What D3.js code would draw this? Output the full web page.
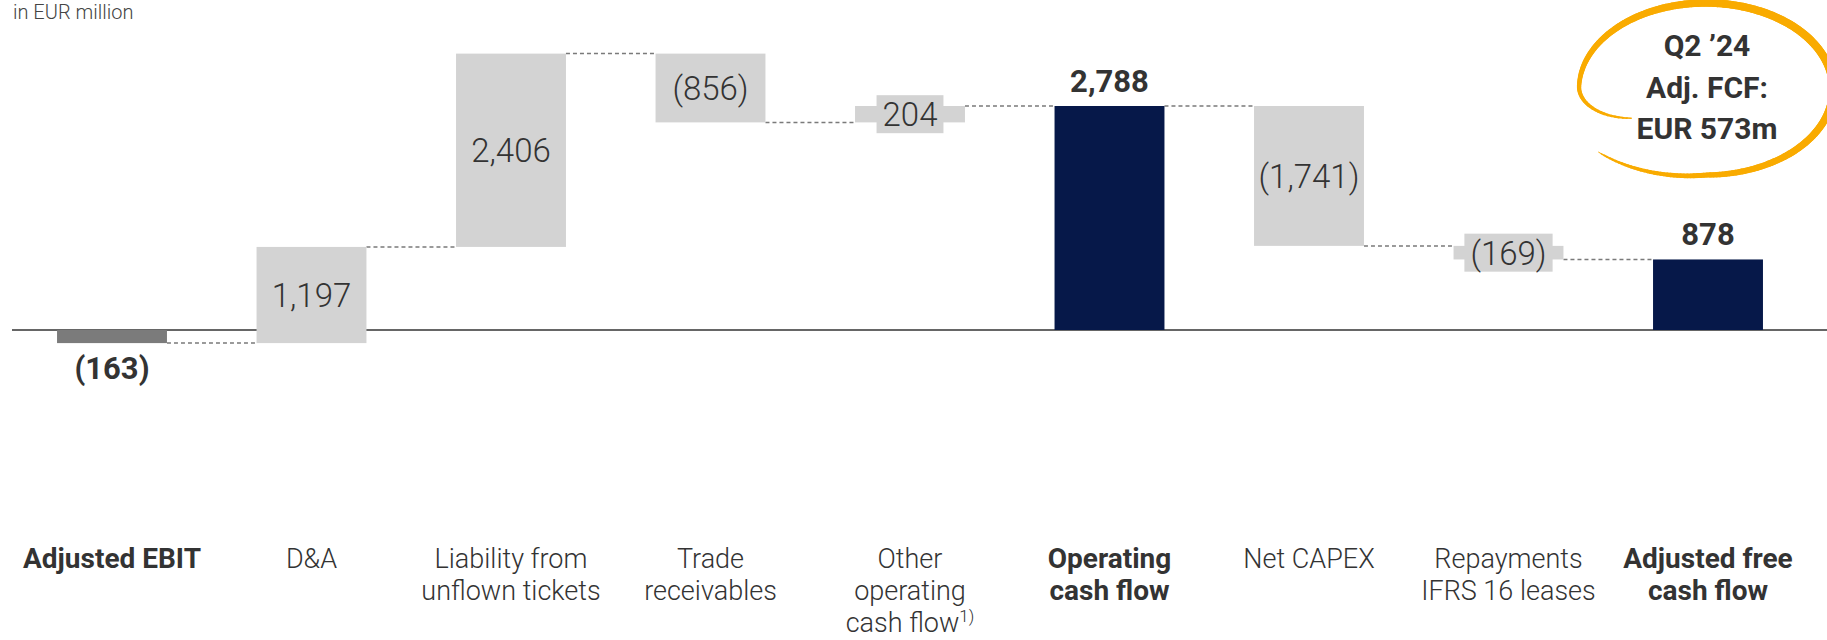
<!DOCTYPE html>
<html>
<head>
<meta charset="utf-8">
<script src="https://cdn.jsdelivr.net/npm/d3@7"></script>
<style>
    body { margin: 0; background: #fff; }
    svg { display: block; font-family: Roboto, "Noto Sans", sans-serif; }
</style>
</head>
<body>
<svg id="chart"></svg>
<script>
const categories = [
    "Adjusted EBIT", "D&A", "Liability from unflown tickets", "Trade receivables",
    "Other operating cash flow", "Operating cash flow", "Net CAPEX",
    "Repayments IFRS 16 leases", "Adjusted free cash flow"
];
const labelLines = [
    ["Adjusted EBIT"], ["D&A"], ["Liability from", "unflown tickets"], ["Trade", "receivables"],
    ["Other", "operating", "cash flow"], ["Operating", "cash flow"], ["Net CAPEX"],
    ["Repayments", "IFRS 16 leases"], ["Adjusted free", "cash flow"]
];
const footnotes = ["", "", "", "", "1)", "", "", "", ""];
const values = [-163, 1197, 2406, -856, 204, 2788, -1741, -169, 878];
const barTypes = ["total", "delta", "delta", "delta", "delta", "total", "delta", "delta", "total"];
const valueLabels = ["(163)", "1,197", "2,406", "(856)", "204", "2,788", "(1,741)", "(169)", "878"];
const unitLabel = "in EUR million";
const calloutLines = ["Q2 \u201924", "Adj. FCF:", "EUR 573m"];

const width = 1827;
const height = 640;

// running totals for the waterfall
let running = 0;
const bars = categories.map((c, i) => {
    let start, end;
    if (barTypes[i] === "total") {
        start = 0; end = values[i];
    } else {
        start = running; end = running + values[i];
    }
    running = end;
    return { category: c, index: i, value: values[i], type: barTypes[i], start, end, label: valueLabels[i] };
});

const svg = d3.select("#chart")
    .attr("width", width)
    .attr("height", height);

const xScale = d3.scaleBand()
    .domain(categories)
    .range([12.25, 1807.75])
    .paddingInner(0.449)
    .paddingOuter(0.2245);

const yScale = d3.scaleLinear()
    .domain([0, 2788])
    .range([330, 106]);

const barColor = d => {
    if (d.type === "delta") return "#d3d3d3";
    return d.value < 0 ? "#7b7b7b" : "#061849";
};

svg.append("text")
    .attr("x", 13)
    .attr("y", 19)
    .attr("font-size", 20)
    .attr("font-weight", 300)
    .attr("fill", "#444")
    .text(unitLabel);

// baseline
svg.append("line")
    .attr("x1", 12)
    .attr("x2", width)
    .attr("y1", yScale(0))
    .attr("y2", yScale(0))
    .attr("stroke", "#333")
    .attr("stroke-width", 1.5);

// dashed connectors between bars
svg.selectAll("line.connector")
    .data(bars.slice(0, -1))
    .enter()
    .append("line")
    .attr("class", "connector")
    .attr("x1", d => xScale(d.category) + xScale.bandwidth())
    .attr("x2", d => xScale(categories[d.index + 1]))
    .attr("y1", d => yScale(d.end))
    .attr("y2", d => yScale(d.end))
    .attr("stroke", "#7a7a7a")
    .attr("stroke-width", 1.5)
    .attr("stroke-dasharray", "4 3");

svg.selectAll("rect.bar")
    .data(bars)
    .enter()
    .append("rect")
    .attr("class", "bar")
    .attr("x", d => xScale(d.category))
    .attr("y", d => yScale(Math.max(d.start, d.end)))
    .attr("width", xScale.bandwidth())
    .attr("height", d => Math.abs(yScale(d.start) - yScale(d.end)))
    .attr("fill", barColor);

// value labels for deltas: inside the bar, with a box if the bar is too thin
const deltas = bars.filter(d => d.type === "delta");
deltas.forEach(d => {
    const cx = xScale(d.category) + xScale.bandwidth() / 2;
    const cy = (yScale(d.start) + yScale(d.end)) / 2;
    const g = svg.append("g");
    const t = g.append("text")
        .attr("x", cx)
        .attr("y", cy + 12)
        .attr("text-anchor", "middle")
        .attr("font-size", 33)
        .attr("font-weight", 300)
        .attr("fill", "#333")
        .text(d.label);
    if (Math.abs(yScale(d.start) - yScale(d.end)) < 40) {
        const bb = t.node().getBBox();
        g.insert("rect", "text")
            .attr("x", bb.x - 6)
            .attr("y", cy - 19)
            .attr("width", bb.width + 12)
            .attr("height", 38)
            .attr("fill", "#d3d3d3");
    }
});

// value labels for totals: bold, outside the bar
svg.selectAll("text.total")
    .data(bars.filter(d => d.type === "total"))
    .enter()
    .append("text")
    .attr("class", "total")
    .attr("x", d => xScale(d.category) + xScale.bandwidth() / 2)
    .attr("y", d => d.value < 0 ? yScale(d.end) + 36 : yScale(d.end) - 14)
    .attr("text-anchor", "middle")
    .attr("font-size", 31)
    .attr("font-weight", 700)
    .attr("fill", "#333")
    .text(d => d.label);

// category labels
const catLabels = svg.selectAll("text.cat")
    .data(bars)
    .enter()
    .append("text")
    .attr("class", "cat")
    .attr("text-anchor", "middle")
    .attr("font-size", d => d.type === "total" ? 28 : 27)
    .attr("font-weight", d => d.type === "total" ? 700 : 300)
    .attr("fill", "#333");

catLabels.each(function (d) {
    const el = d3.select(this);
    const cx = xScale(d.category) + xScale.bandwidth() / 2;
    labelLines[d.index].forEach((line, j) => {
        el.append("tspan")
            .attr("x", cx)
            .attr("y", 568 + j * 32)
            .text(line);
    });
    if (footnotes[d.index]) {
        el.append("tspan")
            .attr("font-size", 17)
            .attr("dy", -10)
            .text(footnotes[d.index]);
    }
});

// hand drawn callout loop
const loop = { cx: 1706, cy: 89, rx: 127, ry: 86 };
const tStart = 139, tEnd = -210;
const steps = 240;
const pts = d3.range(steps + 1).map(k => {
    const u = k / steps;
    const tDeg = tStart + (tEnd - tStart) * u;
    const t = tDeg * Math.PI / 180;
    let r = 1;
    if (tDeg > 90) r = 1 + 0.12 * (tDeg - 90) / (tStart - 90);
    if (tDeg < -178) {
        const s = Math.min(1, (-178 - tDeg) / (-178 - tEnd));
        r = 1 - 0.32 * s * s;
    }
    return [loop.cx + loop.rx * r * Math.cos(t), loop.cy + loop.ry * r * Math.sin(t), u];
});
const loopG = svg.append("g");
for (let k = 0; k < steps; k++) {
    const u = pts[k][2];
    const w = 1 + 7 * Math.pow(Math.sin(Math.PI * u), 0.6);
    loopG.append("line")
        .attr("x1", pts[k][0]).attr("y1", pts[k][1])
        .attr("x2", pts[k + 1][0]).attr("y2", pts[k + 1][1])
        .attr("stroke", "#f9ab00")
        .attr("stroke-width", w)
        .attr("stroke-linecap", "round");
}

svg.selectAll("text.callout")
    .data(calloutLines)
    .enter()
    .append("text")
    .attr("class", "callout")
    .attr("x", 1707)
    .attr("y", (d, i) => 56 + i * 41.5)
    .attr("text-anchor", "middle")
    .attr("font-size", 30)
    .attr("font-weight", 700)
    .attr("fill", "#333")
    .text(d => d);
</script>
</body>
</html>
